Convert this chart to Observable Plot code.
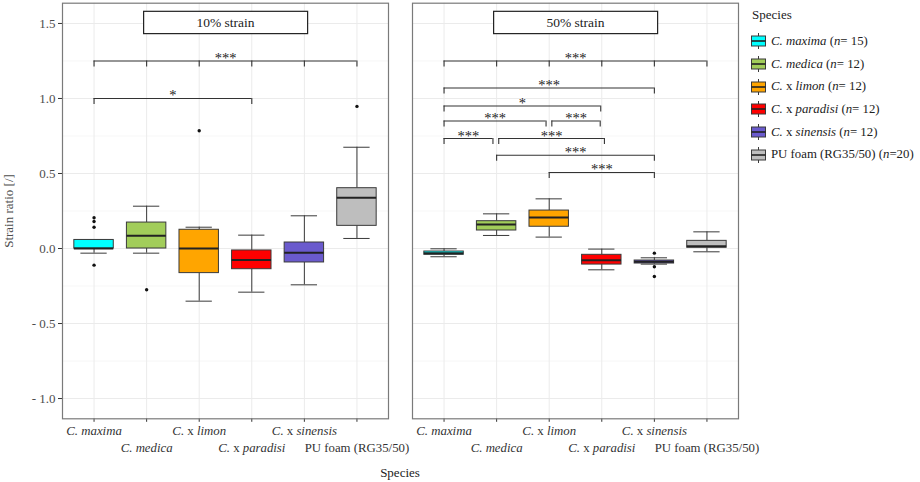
<!DOCTYPE html>
<html><head><meta charset="utf-8">
<script src="https://cdn.jsdelivr.net/npm/d3@7"></script>
<script src="https://cdn.jsdelivr.net/npm/@observablehq/plot@0.6"></script>
<style>
body{margin:0;background:#fff;}
#wrap{position:relative;width:920px;height:482px;font-family:"Liberation Serif",serif;color:#222;}
#legend{position:absolute;left:752px;top:7px;font-size:12.8px;white-space:nowrap;line-height:15px;}
#legend .ttl{font-size:13px;margin-bottom:8px;}
#legend .row{display:flex;align-items:center;height:22.7px;}
#legend svg{margin-left:-2px;margin-right:4px;}
#xtitle{position:absolute;top:465px;font-size:13px;transform:translateX(-50%);}
</style></head><body><div id="wrap"></div>
<script>
const species = ["C. maxima","C. medica","C. x limon","C. x paradisi","C. x sinensis","PU foam (RG35/50)"];
const nCounts = [15,12,12,12,12,20];
const colors = ["#00FFFF","#A2CD5A","#FFA500","#FF0000","#6A5ACD","#BEBEBE"];
const strains = ["10% strain","50% strain"];
const majorTicks = [-1,-0.5,0,0.5,1,1.5];
const minorTicks = [-0.75,-0.25,0.25,0.75,1.25];

// 10% strain summaries
const lo10  = [-0.031,-0.031,-0.351,-0.291,-0.242,0.067];
const q1_10 = [0.0,0.0,-0.164,-0.138,-0.093,0.151];
const med10 = [0.0,0.085,0.0,-0.076,-0.029,0.338];
const q3_10 = [0.057,0.173,0.125,-0.013,0.040,0.402];
const hi10  = [0.057,0.282,0.142,0.089,0.218,0.675];
const out10 = [[0.205,0.18,0.142,-0.111],[-0.275],[0.785],[],[],[0.947]];
// 50% strain summaries
const lo50  = [-0.055,0.087,0.076,-0.142,-0.104,-0.022];
const q1_50 = [-0.042,0.120,0.145,-0.107,-0.100,0.005];
const med50 = [-0.031,0.160,0.207,-0.078,-0.089,0.015];
const q3_50 = [-0.020,0.182,0.253,-0.042,-0.080,0.051];
const hi50  = [-0.002,0.231,0.331,-0.004,-0.062,0.111];
const out50 = [[],[],[],[],[-0.031,-0.122,-0.187],[]];

// significance brackets: [from, to, y, label, nudgeFrom, nudgeTo]
const brackets10 = [
  ["C. maxima","PU foam (RG35/50)",1.25,"***",0,0],
  ["C. maxima","C. x paradisi",1.0,"*",0,0]
];
const brackets50 = [
  ["C. maxima","PU foam (RG35/50)",1.25,"***",0,0],
  ["C. maxima","C. x sinensis",1.07,"***",0,0],
  ["C. maxima","C. x paradisi",0.95,"*",0,-0.02],
  ["C. maxima","C. x limon",0.85,"***",0,-0.06],
  ["C. x limon","C. x paradisi",0.85,"***",0.05,-0.03],
  ["C. maxima","C. medica",0.733,"***",0,-0.07],
  ["C. medica","C. x paradisi",0.733,"***",0.04,0.05],
  ["C. medica","C. x sinensis",0.622,"***",0,0],
  ["C. x limon","C. x sinensis",0.507,"***",0,0]
];
// extra bracket tips on the top (PU foam vs each species) bracket, both panels
const topTipSpecies = ["C. medica","C. x limon","C. x paradisi","C. x sinensis"];
const topTipY = 1.25;
const tipLen = 0.04;

const idx = new Map(species.map((s,i)=>[s,i]));
const stats = {"10% strain":[lo10,q1_10,med10,q3_10,hi10,out10],"50% strain":[lo50,q1_50,med50,q3_50,hi50,out50]};
const boxes = [], outliers = [];
for (const s of strains) {
  const [lo,q1,md,q3,hi,out] = stats[s];
  species.forEach((sp,i)=>{
    boxes.push({strain:s, species:sp, i, lo:lo[i], q1:q1[i], med:md[i], q3:q3[i], hi:hi[i]});
    out[i].forEach(v=>outliers.push({strain:s, species:sp, i, v}));
  });
}
const brackets = [];
[[strains[0],brackets10],[strains[1],brackets50]].forEach(([s,list])=>list.forEach(([f,t,y,l,n1,n2])=>{
  brackets.push({strain:s, x1:idx.get(f)+n1, x2:idx.get(t)+n2, y, label:l});
}));
const tips = brackets.flatMap(b=>[{strain:b.strain,x:b.x1,y:b.y},{strain:b.strain,x:b.x2,y:b.y}])
  .concat(strains.flatMap(s=>topTipSpecies.map(sp=>({strain:s, x:idx.get(sp), y:topTipY}))));
const labels = brackets.filter(b=>b.label);
const xlabels = strains.flatMap(s=>species.map((sp,i)=>({strain:s, i, species:sp})));
const strips = strains.map(s=>({strain:s}));

const BW = 0.375, CAP = 0.25;
const line = "#3a3a3a";
const plot = Plot.plot({
  width: 920, height: 482,
  marginLeft: 61.5, marginRight: 181.5, marginTop: 2.7, marginBottom: 63.7,
  style: {fontFamily: "Liberation Serif, serif", fontSize: "12.8px", background: "#fff", overflow: "visible"},
  x: {domain: [-0.6, 5.6], axis: null},
  y: {domain: [-1.135, 1.635], axis: null},
  fx: {domain: strains, paddingInner: 0.0685, paddingOuter: 0, axis: null},
  color: {domain: species, range: colors},
  marks: [
    Plot.gridY(minorTicks, {stroke: "#f4f4f4", strokeOpacity: 1, strokeWidth: 0.7}),
    Plot.gridY(majorTicks, {stroke: "#ebebeb", strokeOpacity: 1, strokeWidth: 1}),
    Plot.gridX(d3.range(species.length), {stroke: "#ebebeb", strokeOpacity: 1, strokeWidth: 1}),
    Plot.axisY(majorTicks, {tickFormat: d => d < 0 ? "- " + Math.abs(d).toFixed(1) : d.toFixed(1),
      tickSize: 4, tickPadding: 3, stroke: "#333", color: "#4d4d4d", fontSize: "13px",
      label: "Strain ratio [/]", labelAnchor: "center", labelArrow: "none", labelOffset: 59}),
    Plot.axisX(d3.range(species.length), {tickFormat: () => "", tickSize: 3.5, stroke: "#333", label: null}),
    // whiskers
    Plot.ruleX(boxes, {fx: "strain", x: "i", y1: "q3", y2: "hi", stroke: line, strokeWidth: 1}),
    Plot.ruleX(boxes, {fx: "strain", x: "i", y1: "lo", y2: "q1", stroke: line, strokeWidth: 1}),
    Plot.ruleY(boxes, {fx: "strain", y: "hi", x1: d => d.i - CAP, x2: d => d.i + CAP, stroke: line, strokeWidth: 1}),
    Plot.ruleY(boxes, {fx: "strain", y: "lo", x1: d => d.i - CAP, x2: d => d.i + CAP, stroke: line, strokeWidth: 1}),
    // boxes
    Plot.rect(boxes, {fx: "strain", x1: d => d.i - BW, x2: d => d.i + BW, y1: "q1", y2: "q3", fill: "species", stroke: line, strokeWidth: 1}),
    Plot.ruleY(boxes, {fx: "strain", y: "med", x1: d => d.i - BW, x2: d => d.i + BW, stroke: "#222", strokeWidth: 2}),
    Plot.dot(outliers, {fx: "strain", x: "i", y: "v", r: 1.7, fill: "#111", stroke: null}),
    // brackets
    Plot.ruleY(brackets, {fx: "strain", y: "y", x1: "x1", x2: "x2", stroke: "#333", strokeWidth: 1.1}),
    Plot.ruleX(tips, {fx: "strain", x: "x", y1: "y", y2: d => d.y - tipLen, stroke: "#333", strokeWidth: 1.1}),
    Plot.text(labels, {fx: "strain", x: d => (d.x1 + d.x2) / 2, y: "y", text: "label", lineAnchor: "bottom", dy: 2, fill: "#222", fontSize: "14.5px", letterSpacing: "0.5px"}),
    // x labels (staggered)
    Plot.text(xlabels, {fx: "strain", x: "i", frameAnchor: "bottom", text: "species", fill: "#333"}),
    // strip labels
    Plot.text(strips, {fx: "strain", frameAnchor: "top", lineAnchor: "middle", text: "strain", dy: 19.5, fill: "#222", fontSize: "13.5px"}),
    Plot.frame({stroke: "#7a7a7a", strokeWidth: 1.2})
  ]
});

const wrap = document.getElementById("wrap");
wrap.appendChild(plot);
const svg = d3.select(plot);
const rootRect = plot.getBoundingClientRect();

// staggered rows + rich italic labels
const rowOf = new Map(species.map((s,i)=>[s,i%2]));
function parts(name){
  if (name.startsWith("C. x ")) return [["C.",1],[" x ",0],[name.slice(5),1]];
  if (name.startsWith("C. ")) return [[name,1]];
  return [[name,0]];
}
svg.selectAll("text").each(function(){
  const t = this.textContent;
  if (rowOf.has(t)) {
    const el = d3.select(this);
    el.attr("dy", null);
    const row = rowOf.get(t);
    el.attr("y", (+el.attr("y") || 0) + (row === 0 ? 16.5 : 33.5));
    el.text("");
    parts(t).forEach(([s,it])=>el.append("tspan").attr("font-style", it ? "italic" : "normal").text(s));
  }
});
// strip boxes (drawn under the strip text, above the grid)
svg.selectAll("text").each(function(){
  const t = this.textContent;
  if (strains.includes(t)) {
    const r = this.getBoundingClientRect();
    const cx = r.left + r.width/2 - rootRect.left, cy = r.top + r.height/2 - rootRect.top;
    let top = this;
    while (top.parentNode !== plot) top = top.parentNode;
    const rect = document.createElementNS("http://www.w3.org/2000/svg", "rect");
    d3.select(rect).attr("x", cx - 82).attr("y", cy - 11.2).attr("width", 164).attr("height", 22.3)
      .attr("fill", "#fff").attr("stroke", "#222").attr("stroke-width", 1.2);
    plot.insertBefore(rect, top);
  }
});

// x title
const xt = document.createElement("div");
xt.id = "xtitle"; xt.textContent = "Species";
xt.style.left = ((61.5 + 920 - 181.5) / 2) + "px";
wrap.appendChild(xt);

// legend
const lg = document.createElement("div");
lg.id = "legend";
function richHTML(name){
  return parts(name).map(([s,it]) => it ? `<i>${s}</i>` : s.replace(/ /g,"&nbsp;")).join("");
}
lg.innerHTML = `<div class="ttl">Species</div>` + species.map((sp,i)=>{
  const nTxt = i === species.length - 1 ? `(<i>n</i>=${nCounts[i]})` : `(<i>n</i>= ${nCounts[i]})`;
  return `<div class="row"><svg width="17" height="18"><line x1="8.5" x2="8.5" y1="1" y2="17" stroke="${line}"/><rect x="1.5" y="4" width="14" height="10" fill="${colors[i]}" stroke="${line}"/><line x1="1.5" x2="15.5" y1="9" y2="9" stroke="#222" stroke-width="1.6"/></svg><span>${richHTML(sp)} ${nTxt}</span></div>`;
}).join("");
wrap.appendChild(lg);
</script></body></html>
